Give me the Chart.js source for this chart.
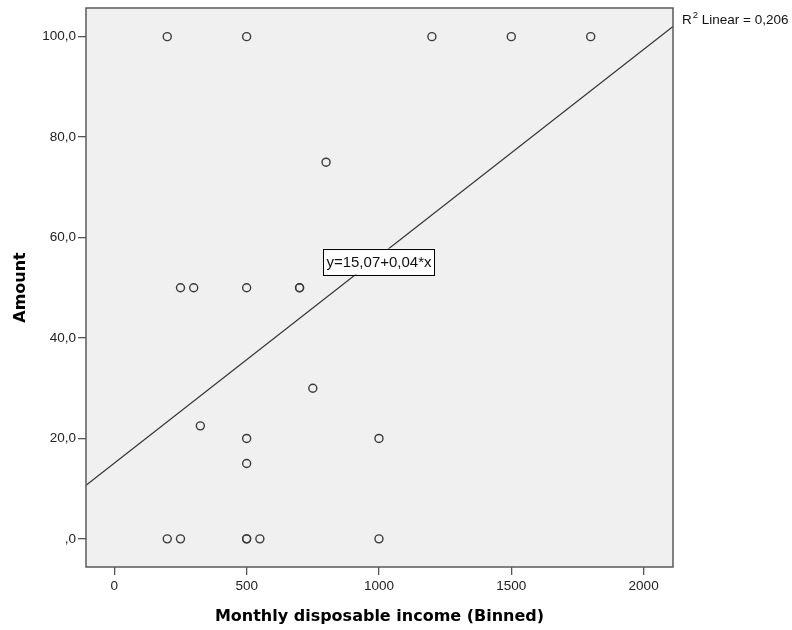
<!DOCTYPE html>
<html>
<head>
<meta charset="utf-8">
<script src="https://cdn.jsdelivr.net/npm/chart.js@4"></script>
<style>
  body { margin: 0; background: #fff; }
  #chart { display: block; }
</style>
</head>
<body>
<canvas id="chart" width="792" height="630"></canvas>
<script>
// monthly income (binned) vs amount
const incomes = [200, 500, 1200, 1500, 1800, 800, 250, 300, 500, 700, 700, 750, 325, 500, 1000, 500, 200, 250, 500, 500, 550, 1000];
const amounts = [100, 100, 100, 100, 100, 75, 50, 50, 50, 50, 50, 30, 22.5, 20, 20, 15, 0, 0, 0, 0, 0, 0];

const xTicks = [0, 500, 1000, 1500, 2000];
const yTicks = [0, 20, 40, 60, 80, 100];
const xRange = [-107, 2111];
const yRange = [-5.6, 105.7];

// linear fit
const fitIntercept = 15.07;
const fitSlope = 0.0412;
const fitLabel = 'y=15,07+0,04*x';
const r2Text = '0,206';
const eqPos = [1000, 55.2];

const fitPoints = xRange.map(x => ({ x: x, y: fitIntercept + fitSlope * x }));
const pts = incomes.map((x, i) => ({ x: x, y: amounts[i] }));

function fmtY(v) {
  if (v === 0) return ',0';
  return v.toFixed(1).replace('.', ',');
}

const boxPlugin = {
  id: 'spssBox',
  beforeDatasetsDraw(chart) {
    const { ctx, chartArea: a } = chart;
    ctx.save();
    ctx.fillStyle = '#f0f0f0';
    ctx.fillRect(a.left, a.top, a.right - a.left, a.bottom - a.top);
    ctx.restore();
  },
  afterDatasetsDraw(chart) {
    const { ctx, chartArea: a, scales } = chart;
    ctx.save();
    ctx.strokeStyle = '#5a5a5a';
    ctx.lineWidth = 1.5;
    ctx.strokeRect(a.left, a.top, a.right - a.left, a.bottom - a.top);

    // equation box
    ctx.font = '15px "Liberation Sans", Arial, sans-serif';
    const tw = ctx.measureText(fitLabel).width;
    const cx = scales.x.getPixelForValue(eqPos[0]);
    const cy = scales.y.getPixelForValue(eqPos[1]);
    const bw = tw + 6, bh = 26;
    ctx.fillStyle = '#fff';
    ctx.fillRect(cx - bw / 2, cy - bh / 2, bw, bh);
    ctx.strokeStyle = '#000';
    ctx.lineWidth = 1;
    ctx.strokeRect(Math.round(cx - bw / 2) + 0.5, Math.round(cy - bh / 2) + 0.5, Math.round(bw), bh);
    ctx.fillStyle = '#111';
    ctx.textAlign = 'center';
    ctx.textBaseline = 'middle';
    ctx.fillText(fitLabel, cx, cy + 1);

    // R2 label at the end of the fit line
    const endY = scales.y.getPixelForValue(fitPoints[1].y);
    let lx = a.right + 9;
    const ly = endY - 6;
    ctx.textAlign = 'left';
    ctx.fillStyle = '#111';
    ctx.font = '13.5px "Liberation Sans", Arial, sans-serif';
    ctx.fillText('R', lx, ly);
    lx += ctx.measureText('R').width + 1;
    ctx.font = '9.5px "Liberation Sans", Arial, sans-serif';
    ctx.fillText('2', lx, ly - 5);
    lx += ctx.measureText('2').width;
    ctx.font = '13.5px "Liberation Sans", Arial, sans-serif';
    ctx.fillText(' Linear = ' + r2Text, lx, ly);
    ctx.restore();
  }
};

const tickFont = { family: '"Liberation Sans", Arial, sans-serif', size: 13.5 };
const titleFont = { family: '"DejaVu Sans", sans-serif', size: 16, weight: 'bold' };

new Chart(document.getElementById('chart').getContext('2d'), {
  type: 'scatter',
  data: {
    datasets: [
      {
        label: 'Amount',
        data: pts,
        pointStyle: 'circle',
        pointRadius: 4,
        borderColor: '#3a3a3a',
        borderWidth: 1.4,
        backgroundColor: 'rgba(0,0,0,0)'
      },
      {
        label: 'Fit',
        type: 'line',
        data: fitPoints,
        borderColor: '#333',
        borderWidth: 1.2,
        pointRadius: 0,
        fill: false
      }
    ]
  },
  options: {
    responsive: false,
    animation: false,
    layout: { padding: { top: 8, right: 119, left: 0, bottom: 0 } },
    plugins: {
      legend: { display: false },
      tooltip: { enabled: false }
    },
    scales: {
      x: {
        type: 'linear',
        min: xRange[0],
        max: xRange[1],
        afterBuildTicks: s => { s.ticks = xTicks.map(v => ({ value: v })); },
        afterFit: s => { s.height = 63; s.paddingLeft = 0; s.paddingRight = 0; },
        grid: { drawOnChartArea: false, drawTicks: true, tickLength: 8, color: '#555', lineWidth: 1.3 },
        border: { display: false },
        ticks: { font: tickFont, color: '#222', padding: 3, maxRotation: 0, callback: v => String(v) },
        title: { display: true, text: 'Monthly disposable income (Binned)', font: titleFont, color: '#000', padding: { top: 0, bottom: 4 } }
      },
      y: {
        type: 'linear',
        min: yRange[0],
        max: yRange[1],
        afterBuildTicks: s => { s.ticks = yTicks.map(v => ({ value: v })); },
        afterFit: s => { s.width = 86; s.paddingTop = 0; s.paddingBottom = 0; },
        grid: { drawOnChartArea: false, drawTicks: true, tickLength: 8, color: '#555', lineWidth: 1.3 },
        border: { display: false },
        ticks: { font: tickFont, color: '#222', padding: 2, callback: v => fmtY(v) },
        title: { display: true, text: 'Amount', font: titleFont, color: '#000', padding: { top: 11, bottom: 0 } }
      }
    }
  },
  plugins: [boxPlugin]
});
</script>
</body>
</html>
